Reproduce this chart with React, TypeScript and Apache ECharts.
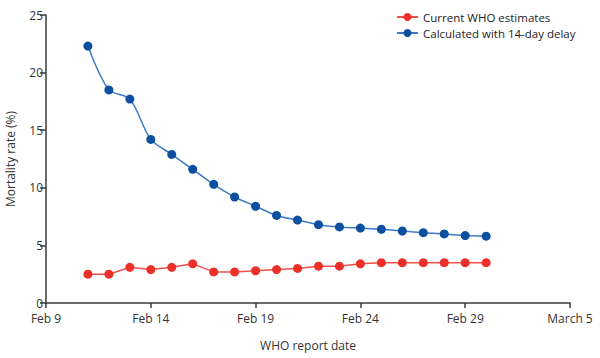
import React, { useEffect, useRef } from "react";
import * as echarts from "echarts";

// Report dates (2020), one per day
const reportDates = [
  "2020-02-11", "2020-02-12", "2020-02-13", "2020-02-14", "2020-02-15",
  "2020-02-16", "2020-02-17", "2020-02-18", "2020-02-19", "2020-02-20",
  "2020-02-21", "2020-02-22", "2020-02-23", "2020-02-24", "2020-02-25",
  "2020-02-26", "2020-02-27", "2020-02-28", "2020-02-29", "2020-03-01",
];
const axisStartDate = "2020-02-09";

const currentWHO = [
  2.5, 2.5, 3.1, 2.9, 3.1, 3.4, 2.7, 2.7, 2.8, 2.9,
  3.0, 3.2, 3.2, 3.4, 3.5, 3.5, 3.5, 3.5, 3.5, 3.5,
];
const delayed14 = [
  22.3, 18.5, 17.7, 14.2, 12.9, 11.6, 10.3, 9.2, 8.4, 7.6,
  7.2, 6.8, 6.6, 6.5, 6.4, 6.25, 6.1, 6.0, 5.85, 5.8,
];
const xTickLabels = ["Feb 9", "Feb 14", "Feb 19", "Feb 24", "Feb 29", "March 5"];
const seriesNames = ["Current WHO estimates", "Calculated with 14-day delay"];

const DAY = 86400000;
const dayOffset = (d: string) =>
  Math.round((Date.parse(d) - Date.parse(axisStartDate)) / DAY);

export default function App() {
  const ref = useRef<HTMLDivElement>(null);
  useEffect(() => {
    document.body.style.margin = "0";
    const chart = echarts.init(ref.current!, null, { renderer: "svg" });
    const font = "'Open Sans', sans-serif";
    const axisColor = "#3a3a3a";
    const textColor = "#333";
    chart.setOption({
      animation: false,
      backgroundColor: "#fff",
      textStyle: { fontFamily: font },
      grid: {
        left: 46,
        right: 30,
        top: 15,
        bottom: 55,
        containLabel: false,
        outerBoundsMode: "none",
      },
      legend: {
        orient: "vertical",
        left: 391,
        top: 4,
        itemWidth: 21,
        itemHeight: 10,
        itemGap: 0,
        textStyle: { fontFamily: font, fontSize: 11.5, color: "#222", lineHeight: 16 },
        data: seriesNames,
      },
      xAxis: {
        type: "value",
        min: 0,
        max: 25,
        interval: 5,
        name: "WHO report date",
        nameLocation: "middle",
        nameGap: 36,
        nameTextStyle: { fontFamily: font, fontSize: 12, color: textColor },
        axisLine: { show: true, lineStyle: { color: axisColor, width: 1.5 } },
        axisTick: { show: true, length: 5, lineStyle: { color: axisColor, width: 1.5 } },
        axisLabel: {
          fontFamily: font,
          fontSize: 12,
          color: textColor,
          margin: 9,
          lineHeight: 13,
          formatter: (v: number) => xTickLabels[Math.round(v / 5)] ?? "",
        },
        splitLine: { show: false },
      },
      yAxis: {
        type: "value",
        min: 0,
        max: 25,
        interval: 5,
        name: "Mortality rate (%)",
        nameLocation: "middle",
        nameGap: 30,
        nameTextStyle: { fontFamily: font, fontSize: 12, color: textColor },
        axisLine: { show: true, lineStyle: { color: axisColor, width: 1.5 } },
        axisTick: { show: true, length: 6, lineStyle: { color: axisColor, width: 1.5 } },
        axisLabel: { fontFamily: font, fontSize: 12, color: textColor, margin: 3, lineHeight: 12 },
        splitLine: { show: false },
      },
      series: [
        {
          name: seriesNames[0],
          type: "line",
          data: reportDates.map((d, i) => [dayOffset(d), currentWHO[i]]),
          symbol: "circle",
          symbolSize: 9,
          lineStyle: { color: "#f0504a", width: 1.5 },
          itemStyle: { color: "#ec2f28" },
          z: 3,
        },
        {
          name: seriesNames[1],
          type: "line",
          data: reportDates.map((d, i) => [dayOffset(d), delayed14[i]]),
          symbol: "circle",
          symbolSize: 9,
          smooth: 0.3,
          lineStyle: { color: "#3b7cc4", width: 1.5 },
          itemStyle: { color: "#0b4f9e" },
          z: 3,
        },
      ],
    });
    return () => chart.dispose();
  }, []);
  return <div ref={ref} style={{ width: 600, height: 358 }} />;
}
